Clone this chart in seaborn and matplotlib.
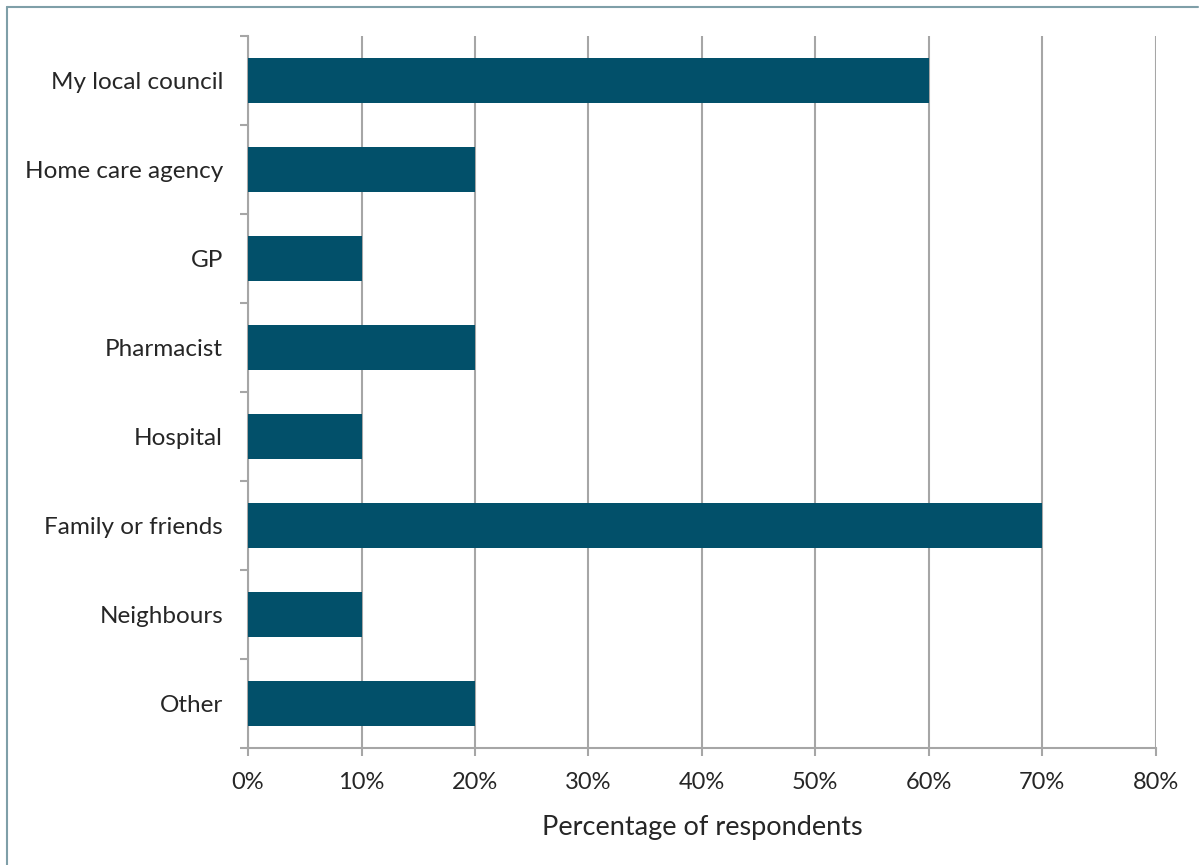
import numpy as np
import matplotlib.pyplot as plt
import seaborn as sns
from matplotlib.lines import Line2D
from matplotlib.ticker import FixedLocator, PercentFormatter

# Survey answers
categories = ['My local council', 'Home care agency', 'GP', 'Pharmacist',
              'Hospital', 'Family or friends', 'Neighbours', 'Other']
percent = [60, 20, 10, 20, 10, 70, 10, 20]

bar_color = '#02506A'
grid_color = '#A6A6A6'

sns.set_style('white')
plt.rcParams['font.family'] = ['Lato', 'DejaVu Sans']

fig = plt.figure(figsize=(12.03, 8.65), dpi=100)
ax = fig.add_axes([0.2062, 0.1353, 0.7544, 0.8231])

sns.barplot(x=percent, y=categories, color=bar_color, width=0.5,
            saturation=1, orient='h', ax=ax, zorder=3, linewidth=0)

ax.set_xlim(0, 80)
ax.set_ylim(len(categories) - 0.5, -0.5)
ax.set_xticks(np.arange(0, 81, 10))
ax.xaxis.set_major_formatter(PercentFormatter(decimals=0))
ax.grid(axis='x', color=grid_color, linewidth=1.5, zorder=0)

# category labels without tick marks, tick marks between categories
ax.tick_params(axis='y', which='major', left=True, length=0, pad=18,
               labelsize=17.5)
ax.yaxis.set_minor_locator(FixedLocator(np.arange(-0.5, len(categories), 1)))
ax.tick_params(axis='y', which='minor', left=True, length=6, width=1.5,
               color=grid_color)
ax.tick_params(axis='x', bottom=True, length=6, width=1.5, color=grid_color,
               pad=11, labelsize=17)

for side in ['top', 'right']:
    ax.spines[side].set_visible(False)
for side in ['left', 'bottom']:
    ax.spines[side].set_color(grid_color)
    ax.spines[side].set_linewidth(1.5)

ax.set_xlabel('Percentage of respondents', fontsize=19.5, labelpad=16)
ax.set_ylabel('')

# frame round the chart
frame_color = '#7F9FA8'
fig.add_artist(Line2D([0.006, 0.996], [0.992, 0.992], color=frame_color, lw=1.5))
fig.add_artist(Line2D([0.006, 0.006], [0.0, 0.992], color=frame_color, lw=1.5))

fig.savefig('out.png', dpi=100)
